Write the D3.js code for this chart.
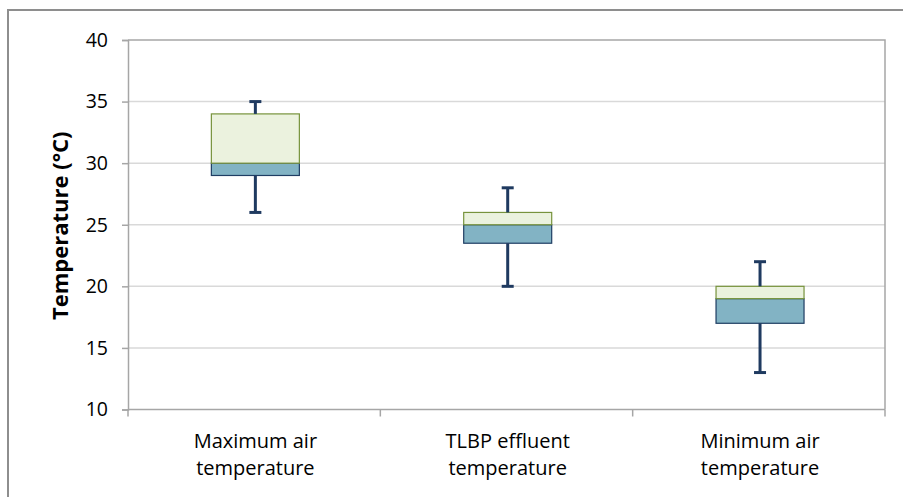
<!DOCTYPE html>
<html>
<head>
<meta charset="utf-8">
<script src="https://cdn.jsdelivr.net/npm/d3@7"></script>
<style>
  html, body { margin: 0; padding: 0; background: #fff; }
  svg { display: block; font-family: "Open Sans", Lato, "Liberation Sans", sans-serif; }
</style>
</head>
<body>
<svg id="chart" width="903" height="497"></svg>
<script>
// Temperature distributions per category (°C)
const categories = [
  ["Maximum air", "temperature"],
  ["TLBP effluent", "temperature"],
  ["Minimum air", "temperature"]
];
const minValues    = [26, 20, 13];
const q1Values     = [29, 23.5, 17];
const medianValues = [30, 25, 19];
const q3Values     = [34, 26, 20];
const maxValues    = [35, 28, 22];
const yTicks = [10, 15, 20, 25, 30, 35, 40];
const yTitle = "Temperature (°C)";

const svg = d3.select("#chart");
const margin = { left: 128, right: 18, top: 40, bottom: 87.5 };
const W = 903, H = 497;
const plotW = W - margin.left - margin.right;
const plotH = H - margin.top - margin.bottom;

// outer chart frame
svg.append("rect")
  .attr("x", 8).attr("y", 10)
  .attr("width", 1000).attr("height", 1000)
  .attr("fill", "none").attr("stroke", "#8e8e8e").attr("stroke-width", 2);

const g = svg.append("g").attr("transform", `translate(${margin.left},${margin.top})`);

const x = d3.scaleBand().domain(d3.range(categories.length)).range([0, plotW]).paddingInner(0).paddingOuter(0);
const y = d3.scaleLinear().domain([10, 40]).range([plotH, 0]);

// horizontal gridlines
g.append("g")
  .selectAll("line")
  .data(yTicks.filter(t => t > 10 && t < 40))
  .join("line")
  .attr("x1", 0).attr("x2", plotW)
  .attr("y1", d => y(d)).attr("y2", d => y(d))
  .attr("stroke", "#d9d9d9").attr("stroke-width", 1.5);

// plot area border (top and right)
g.append("path")
  .attr("d", `M0,${y(40)}H${plotW}V${plotH}`)
  .attr("fill", "none").attr("stroke", "#a6a6a6").attr("stroke-width", 1.5);

// y axis
const yAxis = g.append("g")
  .call(d3.axisLeft(y).tickValues(yTicks).tickSize(6).tickPadding(14).tickFormat(d3.format("d")));
yAxis.select(".domain").attr("stroke", "#a6a6a6").attr("stroke-width", 1.5);
yAxis.selectAll(".tick line").attr("stroke", "#a6a6a6").attr("stroke-width", 1.5);
yAxis.selectAll(".tick text")
  .attr("fill", "#000").attr("font-size", 19.5).attr("font-family", "'Open Sans', sans-serif");

// x axis with ticks at category boundaries
const xAxisG = g.append("g").attr("transform", `translate(0,${plotH})`);
xAxisG.append("line")
  .attr("x1", 0).attr("x2", plotW).attr("y1", 0).attr("y2", 0)
  .attr("stroke", "#a6a6a6").attr("stroke-width", 1.5);
xAxisG.selectAll("line.tk")
  .data(d3.range(categories.length + 1))
  .join("line").attr("class", "tk")
  .attr("x1", d => d === categories.length ? plotW : x(d))
  .attr("x2", d => d === categories.length ? plotW : x(d))
  .attr("y1", 0).attr("y2", 7)
  .attr("stroke", "#a6a6a6").attr("stroke-width", 1.5);

// category centre (boxes sit a hair right of the band middle)
const cx = i => x(i) + x.bandwidth() / 2 + 1.2;

// category labels (two lines each)
const catLabels = xAxisG.selectAll("text.cat")
  .data(categories)
  .join("text").attr("class", "cat")
  .attr("text-anchor", "middle")
  .attr("font-size", 20)
  .attr("fill", "#000")
  .attr("transform", (d, i) => `translate(${cx(i)},0)`);
catLabels.selectAll("tspan")
  .data(d => d)
  .join("tspan")
  .attr("x", 0)
  .attr("y", (d, i) => 38.5 + i * 27)
  .text(d => d);

// y axis title
svg.append("text")
  .attr("transform", `translate(68,${margin.top + plotH / 2 + 1}) rotate(-90)`)
  .attr("text-anchor", "middle")
  .attr("font-size", 22).attr("font-weight", "bold").attr("fill", "#000")
  .text(yTitle);

// boxes
const boxW = 88;
const idx = d3.range(categories.length);
const boxes = g.append("g");

// lower part: Q1 to median
boxes.selectAll("rect.lower")
  .data(idx).join("rect").attr("class", "lower")
  .attr("x", i => cx(i) - boxW / 2)
  .attr("width", boxW)
  .attr("y", i => y(medianValues[i]))
  .attr("height", i => y(q1Values[i]) - y(medianValues[i]))
  .attr("fill", "#82b3c4").attr("stroke", "#1f3d63").attr("stroke-width", 1.2);

// upper part: median to Q3
boxes.selectAll("rect.upper")
  .data(idx).join("rect").attr("class", "upper")
  .attr("x", i => cx(i) - boxW / 2)
  .attr("width", boxW)
  .attr("y", i => y(q3Values[i]))
  .attr("height", i => y(medianValues[i]) - y(q3Values[i]))
  .attr("fill", "#ebf2de").attr("stroke", "#77933c").attr("stroke-width", 1.2);

// whiskers
const wColor = "#1f3a60";
const capW = 12;
const whiskers = g.append("g").attr("stroke", wColor).attr("stroke-width", 3);
whiskers.selectAll("line.up").data(idx).join("line").attr("class", "up")
  .attr("x1", cx).attr("x2", cx)
  .attr("y1", i => y(q3Values[i])).attr("y2", i => y(maxValues[i]));
whiskers.selectAll("line.down").data(idx).join("line").attr("class", "down")
  .attr("x1", cx).attr("x2", cx)
  .attr("y1", i => y(q1Values[i])).attr("y2", i => y(minValues[i]));
whiskers.selectAll("line.capTop").data(idx).join("line").attr("class", "capTop")
  .attr("x1", i => cx(i) - capW / 2).attr("x2", i => cx(i) + capW / 2)
  .attr("y1", i => y(maxValues[i])).attr("y2", i => y(maxValues[i]));
whiskers.selectAll("line.capBot").data(idx).join("line").attr("class", "capBot")
  .attr("x1", i => cx(i) - capW / 2).attr("x2", i => cx(i) + capW / 2)
  .attr("y1", i => y(minValues[i])).attr("y2", i => y(minValues[i]));
</script>
</body>
</html>
